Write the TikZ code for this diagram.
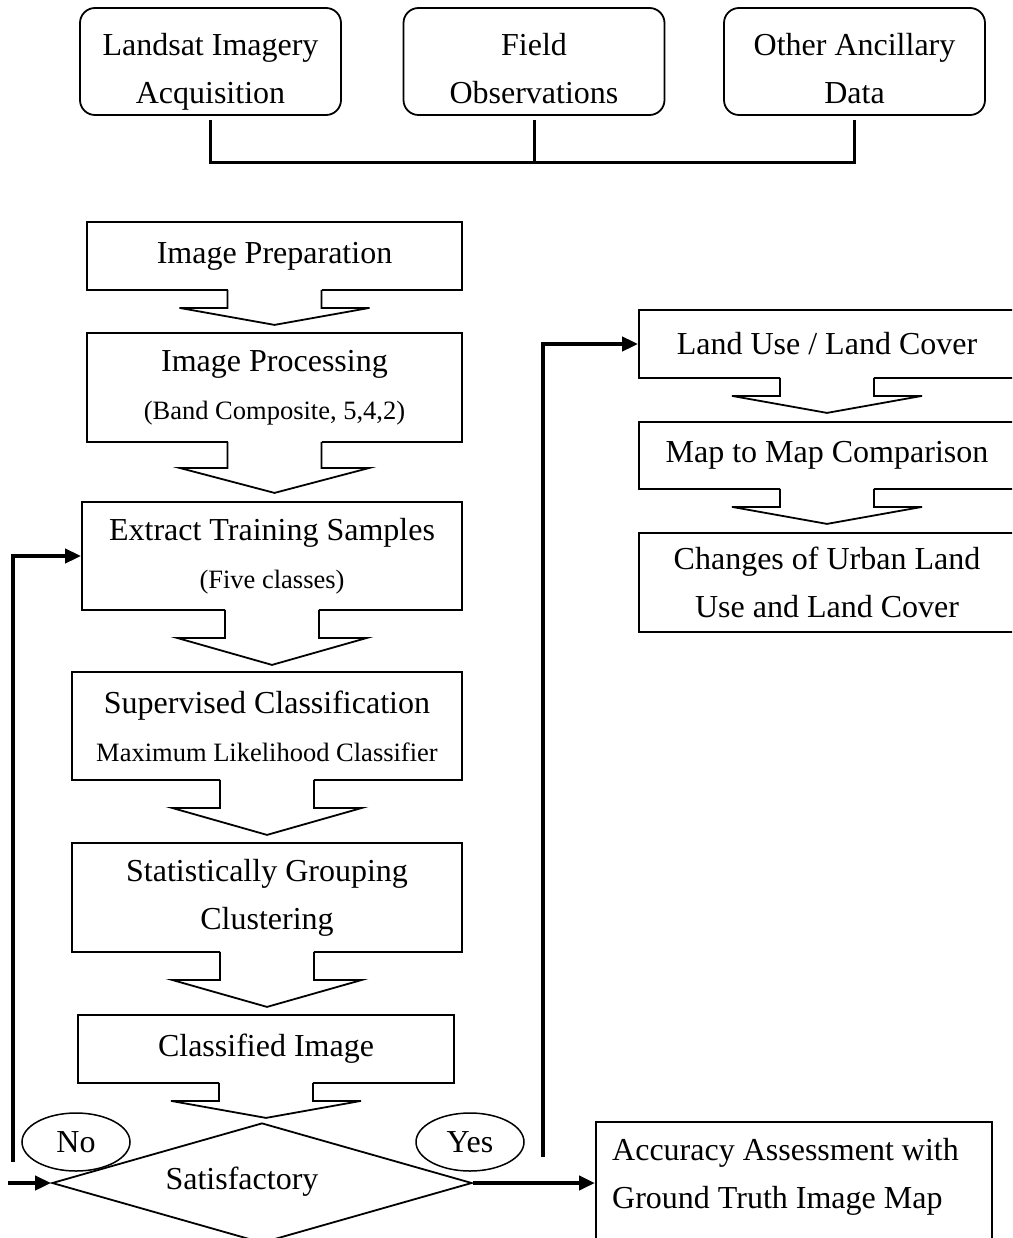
\documentclass[tikz,border=0pt]{standalone}
\usepackage{fontspec}
\setmainfont{Liberation Serif}
\usepackage{tikz}
\usetikzlibrary{calc,shapes,arrows.meta}
\newcommand{\bigtxt}{\fontsize{32}{48}\selectfont}
\newcommand{\smtxt}{\fontsize{26.5}{48}\selectfont}
\newcommand{\topgap}{\rule{0pt}{46pt}}
\newcommand{\botgap}{\rule[-10pt]{0pt}{10pt}}

\begin{document}
\begin{tikzpicture}[x=1pt,y=-1pt]
\tikzstyle{src}=[draw, line width=1.8pt, rounded corners=15pt, minimum width=261pt, minimum height=107pt, inner sep=0pt, align=center, font=\bigtxt]
\tikzstyle{box}=[draw, line width=1.8pt, inner sep=0pt, align=center, font=\bigtxt]
\tikzstyle{blk}=[line width=1.8pt, line join=miter]
\tikzstyle{fb}=[line width=4pt, -{Triangle[length=16pt,width=14pt]}]
\tikzstyle{oval}=[draw, ellipse, line width=1.5pt, minimum width=108pt, minimum height=58pt, inner sep=0pt, font=\bigtxt]
\useasboundingbox (0,0) rectangle (1012,1238);
\clip (0,0) rectangle (1012,1238);
\node[src] (lsat) at (210.5,61.5) {\topgap Landsat Imagery\\Acquisition\botgap};
\node[src] (fobs) at (534,61.5) {\topgap Field\\Observations\botgap};
\node[src] (anc) at (854.5,61.5) {\topgap Other Ancillary\\Data\botgap};
\draw[line width=3pt] ($(lsat.south)+(0,4)$) |- ($(anc.south)+(0,47)$) -- ($(anc.south)+(0,4)$);
\draw[line width=3pt] ($(fobs.south)+(0,4)$) -- ++(0,43);
\node[box, minimum width=375pt, minimum height=68pt] (prep) at (274.5,256) {Image Preparation};
\node[box, minimum width=375pt, minimum height=109pt] (proc) at (274.5,387.5) {Image Processing\\\smtxt (Band Composite, 5,4,2)};
\node[box, minimum width=380pt, minimum height=108pt] (extr) at (272,556) {Extract Training Samples\\\smtxt (Five classes)};
\node[box, minimum width=390pt, minimum height=108pt] (supc) at (267,726) {Supervised Classification\\\smtxt Maximum Likelihood Classifier};
\node[box, minimum width=390pt, minimum height=109pt] (stat) at (267,897.5) {Statistically Grouping\\Clustering};
\node[box, minimum width=376pt, minimum height=68pt] (clsi) at (266,1049) {Classified Image};
\node[box, minimum width=376pt, minimum height=68pt] (luc) at (827,344) {Land Use / Land Cover};
\node[box, minimum width=376pt, minimum height=67pt] (mapc) at (827,455.5) {Map to Map Comparison};
\node[box, minimum width=376pt, minimum height=99pt] (chg) at (827,582.5) {Changes of Urban Land\\Use and Land Cover};
\foreach \nd/\len in {prep/17,proc/25,extr/27,supc/27,stat/27,clsi/17,luc/17,mapc/17}{
\fill[white] ($(\nd.south)+(-47,-2)$) rectangle ($(\nd.south)+(47,2)$);
\draw[blk] ($(\nd.south)+(-47,-1)$) -- ++(0,\len+1) -- ++(-48,0) -- ($(\nd.south)+(0,2*\len)$) -- ($(\nd.south)+(95,\len)$) -- ++(-48,0) -- ++(0,-\len-1);
}
\node[draw, diamond, line width=1.8pt, minimum width=420pt, minimum height=120pt, inner sep=0pt] (sat) at (262,1183) {};
\node[font=\bigtxt] (sattxt) at (242,1182) {Satisfactory};
\node[oval] (no) at (76,1142) {No};
\node[oval] (yes) at (470,1142) {Yes};
\node[box, minimum width=396pt, minimum height=150pt, anchor=north west] (acc) at (595,1121) {};
\node[align=left, font=\bigtxt, anchor=north west, inner sep=0pt] (acctxt) at ($(acc.north west)+(17,17)$) {Accuracy Assessment with\\Ground Truth Image Map};
\coordinate (nobot) at (13,1162);
\coordinate (instart) at (8,1183);
\coordinate (yesbot) at (543,1157);
\draw[fb] (nobot) |- (extr.west);
\draw[fb] (instart) -- (sat.west);
\draw[fb] (yesbot) |- (luc.west);
\draw[fb] (sat.east) -- (sat.east -| acc.west);
\end{tikzpicture}
\end{document}
